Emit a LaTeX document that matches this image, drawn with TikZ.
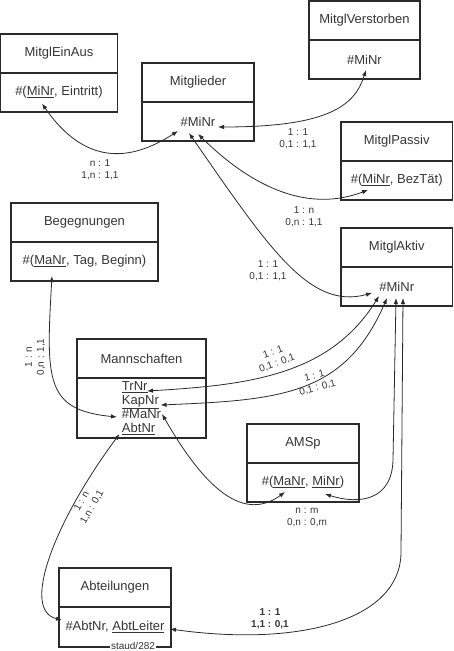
\documentclass[tikz,border=0pt]{standalone}
\usepackage{fontspec}
\setmainfont{Liberation Sans}
\usetikzlibrary{arrows.meta, positioning, calc}
\definecolor{rahmen}{HTML}{2B2B2B}
\definecolor{schrift}{HTML}{353535}
\tikzset{
  >=Latex,
  kopf/.style={
    draw=rahmen, line width=1.1pt, minimum width=#1pt, minimum height=39pt,
    inner sep=0pt, outer sep=0pt, text=schrift, align=center,
    font=\fontsize{13}{13.5}\selectfont
  },
  verb/.style={{Latex[length=6pt,width=4.5pt]}-{Latex[length=6pt,width=4.5pt]}, line width=0.8pt, draw=rahmen},
  kard/.style={font=\fontsize{10}{12}\selectfont, align=center, text=schrift, inner sep=0pt}
}
\begin{document}
\begin{tikzpicture}[x=1pt,y=-1pt]
  \useasboundingbox (0,0) rectangle (453,651);
  % Relationen: Kopf mit Name, darunter die Schluessel
  \node[kopf=116.5, anchor=north west] (einaus) at (0.7,34) {MitglEinAus};
  \node[kopf=116.5, below=0pt of einaus] (einausS) {\#(\underline{MiNr}, Eintritt)};
  \node[kopf=112, anchor=north west] (mitgl) at (142,63) {Mitglieder};
  \node[kopf=112, below=0pt of mitgl] (mitglS) {\#MiNr};
  \node[kopf=111, anchor=north west] (verst) at (309,1) {MitglVerstorben};
  \node[kopf=111, below=0pt of verst] (verstS) {\#MiNr};
  \node[kopf=111.5, anchor=north west] (passiv) at (341,122) {MitglPassiv};
  \node[kopf=111.5, below=0pt of passiv] (passivS) {\#(\underline{MiNr}, BezTät)};
  \node[kopf=147, anchor=north west] (beg) at (11,203) {Begegnungen};
  \node[kopf=147, below=0pt of beg] (begS) {\#(\underline{MaNr}, Tag, Beginn)};
  \node[kopf=111.5, anchor=north west] (aktiv) at (341,228) {MitglAktiv};
  \node[kopf=111.5, below=0pt of aktiv] (aktivS) {\#MiNr};
  \node[kopf=129, anchor=north west] (mann) at (77,339) {Mannschaften};
  \node[kopf=129, minimum height=60pt, align=left, below=0pt of mann] (mannS)
    {\underline{TrNr}\\\underline{KapNr}\\\#MaNr\\\underline{AbtNr}};
  \node[kopf=112, anchor=north west] (amsp) at (247,424) {AMSp};
  \node[kopf=112, below=0pt of amsp] (amspS) {\#(\underline{MaNr}, \underline{MiNr})};
  \node[kopf=112, anchor=north west] (abt) at (59,568) {Abteilungen};
  \node[kopf=112, minimum height=40pt, below=0pt of abt] (abtS) {\#AbtNr, \underline{AbtLeiter}};

  % Beziehungen
  \draw[verb] ($(einausS.center)+(-17,11)$) .. controls +(43,62) and +(-48,31) .. ($(mitglS.center)+(-20,9.5)$);
  \draw[verb] ($(mitglS.center)+(20,5.5)$) .. controls +(112,0) and +(-11,35) .. ($(verstS.center)+(1.5,10.5)$);
  \draw[verb] ($(mitglS.center)+(0,12.5)$) .. controls +(57,56) and +(-58,22) .. ($(passivS.center)+(-28.75,9.5)$);
  \draw[verb] ($(mitglS.center)+(-9,11.5)$) .. controls +(81,117) and +(-62,17) .. ($(aktivS.center)+(-24.75,6.5)$);
  \draw[verb] ($(begS.center)+(-32.5,14.5)$) .. controls +(-6,104) and +(-72,-7) .. ($(mannS.center)+(-24.5,9)$);
  \draw[verb] ($(mannS.center)+(5.5,-17)$) .. controls +(103,-6) and +(-49,79) .. ($(aktivS.center)+(-17.75,9.5)$);
  \draw[verb] ($(mannS.center)+(19,-3)$) .. controls +(121,-5) and +(-42,97) .. ($(aktivS.center)+(-9.75,11.5)$);
  \draw[verb] ($(aktivS.center)+(-0.75,11.5)$) -- ++(-3,162) .. controls +(-1,40) and +(35,11) .. ($(amspS.center)+(22,11.5)$);
  \draw[verb] ($(aktivS.center)+(6.25,11.5)$) -- ++(-2,255) .. controls +(-1,67) and +(130,18) .. ($(abtS.center)+(55,2)$);
  \draw[verb] ($(mannS.center)+(20.5,6)$) .. controls +(38,66) and +(-45,33) .. ($(amspS.center)+(-18,9.5)$);
  \draw[verb] ($(mannS.center)+(-22,26)$) .. controls +(-64,86) and +(-42,-10) .. ($(abtS.center)+(-53,-7)$);

  \node[kard] (k1) at (100,170) {n : 1\\1,n : 1,1};
  \node[kard] (k2) at (298,139) {1 : 1\\0,1 : 1,1};
  \node[kard] (k3) at (304,217) {1 : n\\0,n : 1,1};
  \node[kard] (k4) at (268,271) {1 : 1\\0,1 : 1,1};
  \node[kard, rotate=90] (k5) at (35,357) {1 : n\\0,n : 1,1};
  \node[kard, rotate=20] (k6) at (275,358) {1 : 1\\0,1 : 0,1};
  \node[kard, rotate=15] (k7) at (316,382) {1 : 1\\0,1 : 0,1};
  \node[kard] (k8) at (307,517) {n : m\\0,n : 0,m};
  \node[kard, font=\fontsize{10}{12}\selectfont\bfseries] (k9) at (270,619) {1 : 1\\1,1 : 0,1};
  \node[kard, rotate=60] (k10) at (87,504) {1 : n\\1,n : 0,1};
  \node[kard, fill=white, inner sep=1pt] (quelle) at (133,646) {staud/282};
\end{tikzpicture}
\end{document}
